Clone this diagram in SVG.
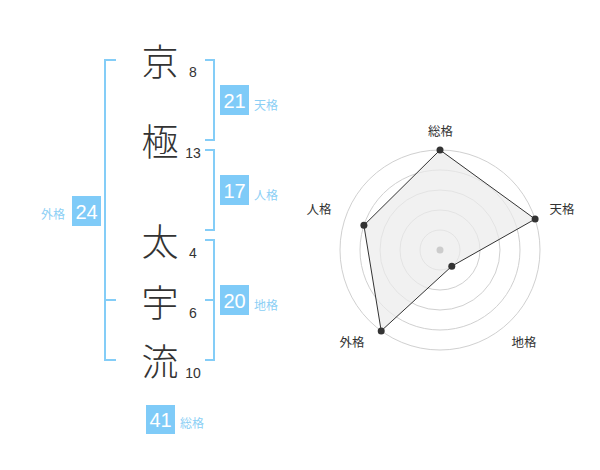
<svg xmlns="http://www.w3.org/2000/svg" width="600" height="470" viewBox="0 0 600 470">
<defs>
<style>
.kanji{font-family:"Noto Sans CJK JP","Noto Sans CJK SC",sans-serif;font-size:37px;font-weight:300;fill:#333;text-anchor:middle;dominant-baseline:central}
.num{font-family:"Liberation Sans",Arial,sans-serif;font-size:14px;fill:#333;text-anchor:middle}
.br{fill:none;stroke:#84cdf7;stroke-width:2}
.box{fill:#7fcbf8}
.bn{font-family:"Liberation Sans",Arial,sans-serif;font-size:20px;fill:#fff;text-anchor:middle;dominant-baseline:central}
.bl{font-family:"Noto Sans CJK JP","Noto Sans CJK SC",sans-serif;font-size:12px;fill:#8ccff5;dominant-baseline:central}
.ring{fill:none;stroke:#d0d0d0;stroke-width:1}
.ax{font-family:"Noto Sans CJK JP","Noto Sans CJK SC",sans-serif;font-size:12.5px;fill:#333;text-anchor:middle;dominant-baseline:central}
.pt{fill:#333}
</style>
</defs>
<g id="connectors">
<path class="br" d="M116,60 H105 V360 H116 M105,300 H116"/>
<path class="br" d="M205,60 H214 V140 H205"/>
<path class="br" d="M205,150 H214 V230 H205"/>
<path class="br" d="M205,240 H214 V360 H205 M205,300 H214"/>
</g>
<g id="char-kyo"><text class="kanji" x="160" y="60">京</text><text class="num" x="193" y="77">8</text></g>
<g id="char-goku"><text class="kanji" x="160" y="140">極</text><text class="num" x="193" y="158">13</text></g>
<g id="char-ta"><text class="kanji" x="160" y="240">太</text><text class="num" x="193" y="258">4</text></g>
<g id="char-u"><text class="kanji" x="160" y="301">宇</text><text class="num" x="193" y="318">6</text></g>
<g id="char-ryu"><text class="kanji" x="160" y="360">流</text><text class="num" x="193" y="378">10</text></g>
<g id="tenkaku"><rect class="box" x="220" y="85" width="29" height="30"/><text class="bn" x="234.5" y="100.5">21</text><text class="bl" x="254" y="104">天格</text></g>
<g id="jinkaku"><rect class="box" x="220" y="175" width="29" height="30"/><text class="bn" x="234.5" y="190.5">17</text><text class="bl" x="254" y="194">人格</text></g>
<g id="chikaku"><rect class="box" x="220" y="285" width="29" height="30"/><text class="bn" x="234.5" y="300.5">20</text><text class="bl" x="254" y="304">地格</text></g>
<g id="gaikaku"><rect class="box" x="72" y="196" width="29" height="30"/><text class="bn" x="86.5" y="211.5">24</text><text class="bl" x="41" y="213">外格</text></g>
<g id="soukaku"><rect class="box" x="146" y="405" width="29" height="29"/><text class="bn" x="160.5" y="420">41</text><text class="bl" x="180" y="422">総格</text></g>
<g id="radar">
<circle class="ring" cx="440" cy="250" r="20"/>
<circle class="ring" cx="440" cy="250" r="40"/>
<circle class="ring" cx="440" cy="250" r="60"/>
<circle class="ring" cx="440" cy="250" r="80"/>
<circle class="ring" cx="440" cy="250" r="100"/>
<polygon points="440,150 535.1,219.1 451.8,266.2 381.2,330.9 363.9,225.3" fill="#ebebeb" fill-opacity="0.7" stroke="#333" stroke-width="1"/>
<circle cx="440" cy="250" r="3.5" fill="#cccccc"/>
<circle class="pt" cx="440" cy="150" r="3.5"/>
<circle class="pt" cx="535.1" cy="219.1" r="3.5"/>
<circle class="pt" cx="451.8" cy="266.2" r="3.5"/>
<circle class="pt" cx="381.2" cy="330.9" r="3.5"/>
<circle class="pt" cx="363.9" cy="225.3" r="3.5"/>
<text class="ax" x="440.5" y="130.5">総格</text>
<text class="ax" x="562" y="208.5">天格</text>
<text class="ax" x="319" y="208.5">人格</text>
<text class="ax" x="352" y="341.5">外格</text>
<text class="ax" x="524" y="341.5">地格</text>
</g>
</svg>
